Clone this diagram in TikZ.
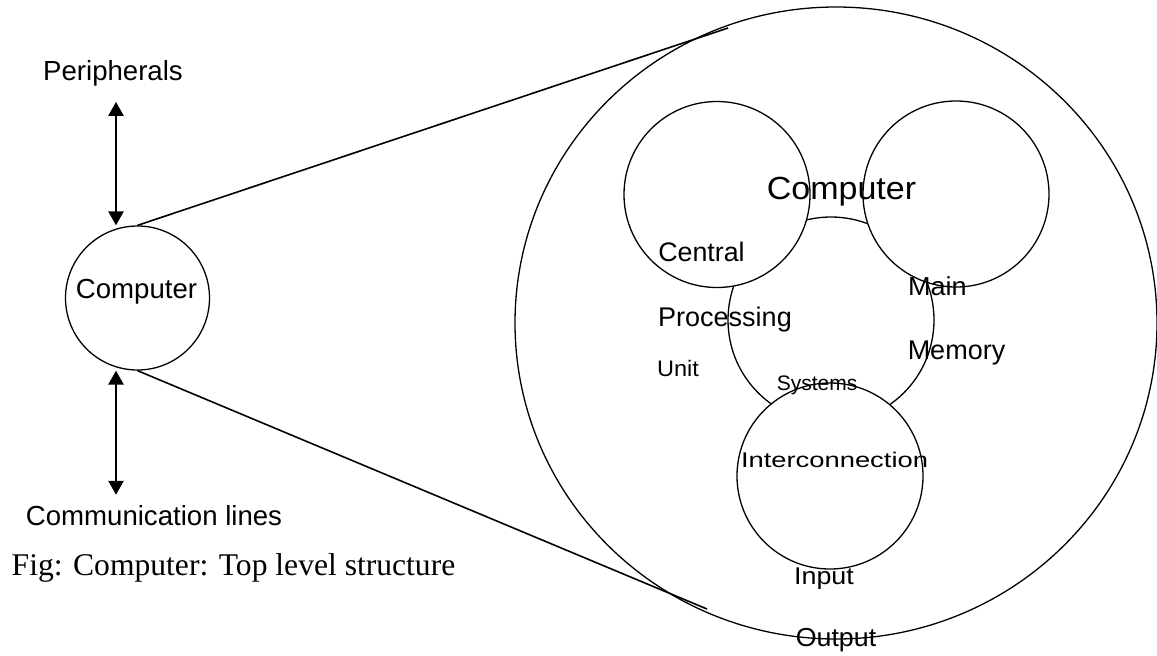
\documentclass[tikz,border=0pt]{standalone}
\usepackage{fontspec}
\setmainfont{Liberation Serif}
\setsansfont{Liberation Sans}
\usetikzlibrary{arrows.meta,shapes.geometric}

% font size given directly in points (one point per unit of the picture)
\newcommand{\pxfont}[1]{\fontsize{#1}{#1}\selectfont}

\begin{document}
\begin{tikzpicture}[x=1pt,y=-1pt,
  ring/.style={draw, circle, inner sep=0pt, line width=1.3pt},
  part/.style={ring, fill=white},
  link/.style={line width=1.6pt},
  io/.style={line width=2.6pt,
    {Triangle[width=15pt,length=14pt]}-{Triangle[width=15pt,length=14pt]}},
  lbl/.style={anchor=base, inner sep=0pt, font=\sffamily\pxfont{#1}},
  lbl/.default=27.6]
\useasboundingbox (0,0) rectangle (1157,656);

% ---- the computer seen from outside ----
\node[ring, minimum size=144pt] (comp) at (137.5,298) {};
\node[lbl] (complbl) at (136.5,298) {Computer};
\node[lbl] (periph) at (113,80) {Peripherals};
\node[lbl] (comm) at (154,525) {Communication lines};
\node[anchor=base, inner sep=0pt, font=\rmfamily\pxfont{31.6}] (caption)
  at (233.5,575) {Fig: Computer: Top level structure};

\coordinate (arrx) at (116,0);
\path (periph.south) ++(0,16) coordinate (ptip);
\path (comm.north) ++(0,-10) coordinate (ctip);
\draw[io] (ptip -| arrx) -- (comp.north -| arrx);
\draw[io] (comp.south -| arrx) -- (ctip -| arrx);

% ---- the enlarged view ----
\node[draw, ellipse, inner sep=0pt, line width=1.3pt,
      minimum width=642pt, minimum height=632pt] (zoom) at (836,323) {};
\coordinate (zt) at (728,28);
\coordinate (zb) at (707,609);
\draw[link] (comp.north) -- (zt);
\draw[link] (comp.south) -- (zb);

% system bus ring behind the three main parts
\node[ring, minimum size=206pt] (bus) at (831,320) {};
\node[part, minimum size=186pt] (cpu) at (717,194.5) {};
\node[part, minimum size=186pt] (mem) at (956,194) {};
\node[part, minimum size=186pt] (io) at (830,476) {};

% ---- labels of the enlarged view ----
\node[lbl=32] (bigcomp) at (841.5,199.3) {\scalebox{1.063}[1]{Computer}};
\node[lbl=26.8] (central) at (701.5,261.7) {Central};
\node[lbl=27] (processing) at (725,326) {Processing};
\node[lbl=22.4] (unit) at (678,376.7) {\scalebox{1.05}[1]{Unit}};
\node[lbl=21] (systems) at (817,390) {Systems};
\node[lbl=26] (main) at (937.3,295) {\scalebox{1.04}[1]{Main}};
\node[lbl=27] (memory) at (956.5,359.3) {Memory};
\node[lbl=21.2] (inter) at (834.5,467.7) {\scalebox{1.29}[1]{Interconnection}};
\node[lbl=24.2] (input) at (824,584) {\scalebox{1.11}[1]{Input}};
\node[lbl=26] (output) at (836,646.7) {\scalebox{1.03}[1]{Output}};
\end{tikzpicture}
\end{document}
